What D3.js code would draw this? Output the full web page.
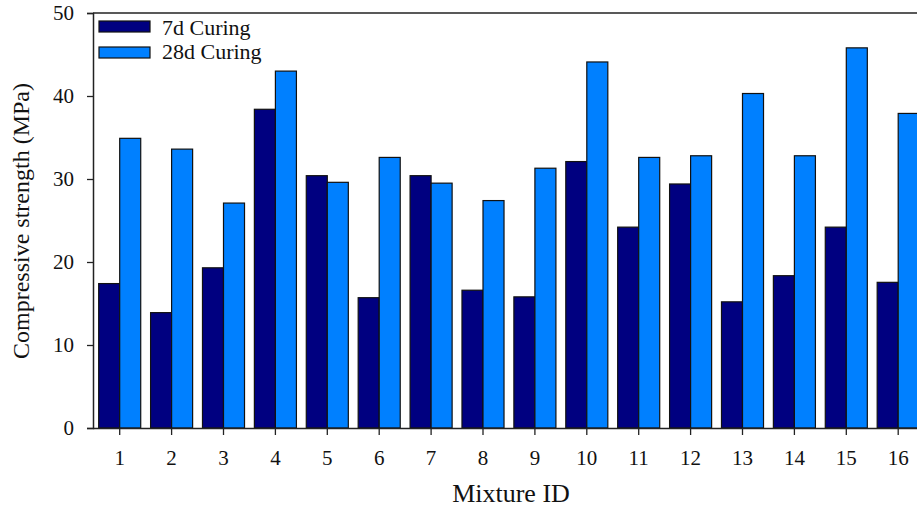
<!DOCTYPE html>
<html><head><meta charset="utf-8">
<script src="https://cdn.jsdelivr.net/npm/d3@7"></script>
<style>html,body{margin:0;padding:0;background:#fff;overflow:hidden}</style>
</head><body>
<script>
const mixtures = ["1","2","3","4","5","6","7","8","9","10","11","12","13","14","15","16"];
const curing7 = [17.4,13.9,19.3,38.4,30.4,15.7,30.4,16.6,15.8,32.1,24.2,29.4,15.2,18.35,24.2,17.55];
const curing28 = [34.9,33.6,27.1,43.0,29.6,32.6,29.5,27.4,31.3,44.1,32.6,32.8,40.3,32.8,45.8,37.9];
const seriesNames = ["7d Curing","28d Curing"];
const yTicks = [0,10,20,30,40,50];

const W=917,H=511;
const svg=d3.select("body").append("svg").attr("width",W).attr("height",H);
const x=d3.scaleBand().domain(mixtures).range([93.75,93.75+16*51.9]).paddingInner(0.19).paddingOuter(0.095);
const xs=d3.scaleBand().domain(seriesNames).range([0,x.bandwidth()]);
const y=d3.scaleLinear().domain([0,50]).range([428,13]);
const colors={"7d Curing":"#000080","28d Curing":"#0080ff"};
const font="'Liberation Serif','Times New Roman',serif";

const data=mixtures.map((m,i)=>({m,vals:[{s:seriesNames[0],v:curing7[i]},{s:seriesNames[1],v:curing28[i]}]}));
const g=svg.append("g");
g.selectAll("g.grp").data(data).join("g").attr("transform",d=>`translate(${x(d.m)},0)`)
 .selectAll("rect").data(d=>d.vals).join("rect")
 .attr("x",d=>xs(d.s)).attr("width",xs.bandwidth())
 .attr("y",d=>y(d.v)).attr("height",d=>y(0)-y(d.v))
 .attr("fill",d=>colors[d.s]).attr("stroke","#111").attr("stroke-width",1.2);

// axes
const ya=svg.append("g").attr("transform","translate(93,0)")
 .call(d3.axisLeft(y).tickValues(yTicks).tickSize(6).tickPadding(13).tickFormat(d3.format("d")));
const xa=svg.append("g").attr("transform","translate(0,428)")
 .call(d3.axisBottom(x).tickSize(7).tickPadding(15));
[ya,xa].forEach(a=>{a.attr("font-family",font);
 a.select(".domain").attr("stroke","#222").attr("stroke-width",1.5);
 a.selectAll(".tick line").attr("stroke","#222").attr("stroke-width",1.3);
 a.selectAll("text").attr("font-family",font).attr("font-size",21).attr("fill","#111");});
xa.select(".domain").attr("d",`M93,0.5H${W+20}`);
// top frame line
svg.append("line").attr("x1",93).attr("x2",W).attr("y1",13).attr("y2",13).attr("stroke","#222").attr("stroke-width",1.5);

// titles
svg.append("text").attr("x",511).attr("y",502).attr("text-anchor","middle")
 .attr("font-family",font).attr("font-size",26).attr("fill","#111").text("Mixture ID");
svg.append("text").attr("transform","translate(29,221) rotate(-90)").attr("text-anchor","middle")
 .attr("font-family",font).attr("font-size",24).attr("fill","#111").text("Compressive strength (MPa)");

// legend
const lg=svg.append("g");
seriesNames.forEach((s,i)=>{
 lg.append("rect").attr("x",99).attr("y",21+i*26).attr("width",51).attr("height",11)
  .attr("fill",colors[s]).attr("stroke","#111").attr("stroke-width",1.2);
 lg.append("text").attr("x",162).attr("y",35+i*24).attr("font-family",font).attr("font-size",22)
  .attr("fill","#111").text(s);
});
</script>
</body></html>
